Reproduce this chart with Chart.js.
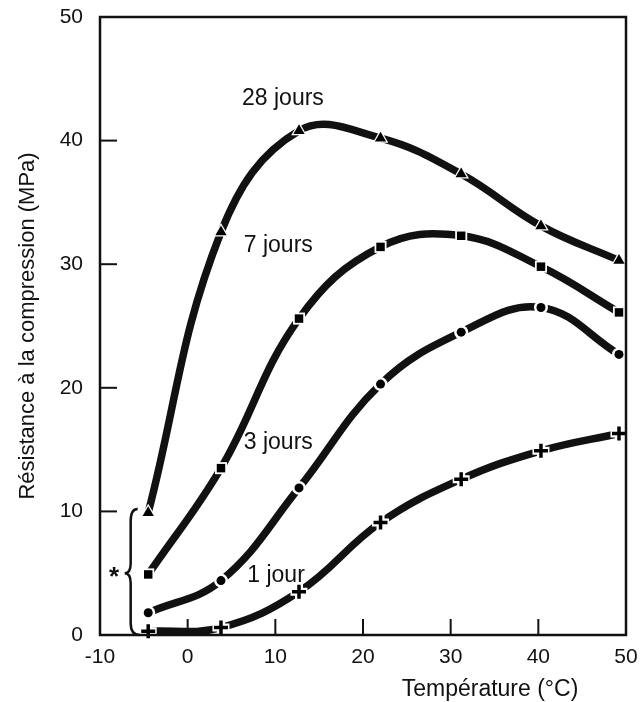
<!DOCTYPE html>
<html>
<head>
<meta charset="utf-8">
<script src="https://cdn.jsdelivr.net/npm/chart.js@4"></script>
<style>
html,body{margin:0;padding:0;background:#fff;}
#wrap{width:644px;height:702px;}
</style>
</head>
<body>
<div id="wrap"><canvas id="c" width="644" height="702"></canvas></div>
<script>
// ---- data ----
const temperatures = [-4.5, 3.8, 12.7, 22, 31.2, 40.3, 49.2];
const jours28 = [9.9, 32.6, 40.8, 40.2, 37.3, 33.1, 30.3];
const jours7  = [4.9, 13.5, 25.6, 31.4, 32.3, 29.8, 26.1];
const jours3  = [1.8, 4.4, 11.9, 20.3, 24.5, 26.5, 22.7];
const jour1   = [0.3, 0.6, 3.5, 9.1, 12.6, 14.9, 16.3];
const seriesNames = ['28 jours', '7 jours', '3 jours', '1 jour'];
const markerStyles = ['triangle', 'rect', 'circle', 'cross'];
const labelPositions = [[6.2, 43.4], [6.4, 31.5], [6.4, 15.6], [6.8, 4.8]];
const xTickValues = [-10, 0, 10, 20, 30, 40, 50];
const yTickValues = [0, 10, 20, 30, 40, 50];
const xTitle = 'Température (°C)';
const yTitle = 'Résistance à la compression (MPa)';

const INK = '#111';
const FONT = '"Liberation Sans", Arial, Helvetica, sans-serif';
const markerRadius = {triangle: 6.5, rect: 6, circle: 4.5, cross: 7};

function pts(ys) { return temperatures.map((t, i) => ({x: t, y: ys[i]})); }

function ds(label, ys, style) {
  return {
    label: label,
    data: pts(ys),
    borderColor: INK,
    borderWidth: 7.5,
    tension: 0.4,
    fill: false,
    pointStyle: style,
    pointRadius: 0,
    pointHoverRadius: 0,
    borderCapStyle: 'butt'
  };
}

// markers drawn at the library-computed point positions, with a white halo
const markers = {
  id: 'markers',
  afterDatasetsDraw(chart) {
    const ctx = chart.ctx;
    const drawPoint = Chart.helpers.drawPoint;
    chart.data.datasets.forEach((d, di) => {
      const meta = chart.getDatasetMeta(di);
      const style = d.pointStyle;
      const r = markerRadius[style];
      meta.data.forEach(el => {
        ctx.save();
        if (style === 'cross') {
          ctx.strokeStyle = '#fff'; ctx.lineWidth = 8;
          drawPoint(ctx, {pointStyle: style, radius: r + 1.5, borderWidth: 8, rotation: 0}, el.x, el.y);
          ctx.strokeStyle = '#000'; ctx.lineWidth = 3.5;
          drawPoint(ctx, {pointStyle: style, radius: r, borderWidth: 3.5, rotation: 0}, el.x, el.y);
        } else {
          ctx.fillStyle = '#fff';
          drawPoint(ctx, {pointStyle: style, radius: r + 2.5, borderWidth: 0, rotation: 0}, el.x, el.y);
          ctx.fillStyle = '#000';
          drawPoint(ctx, {pointStyle: style, radius: r, borderWidth: 0, rotation: 0}, el.x, el.y);
        }
        ctx.restore();
      });
    });
  }
};

const decor = {
  id: 'decor',
  afterDraw(chart) {
    const {ctx, chartArea: a, scales: {x, y}} = chart;
    ctx.save();
    ctx.strokeStyle = INK;
    ctx.fillStyle = INK;
    // frame
    ctx.lineWidth = 2.5;
    ctx.strokeRect(a.left, a.top, a.right - a.left, a.bottom - a.top);
    // inward ticks
    ctx.lineWidth = 2;
    xTickValues.forEach(v => {
      const px = x.getPixelForValue(v);
      ctx.beginPath(); ctx.moveTo(px, a.bottom); ctx.lineTo(px, a.bottom - 16); ctx.stroke();
    });
    yTickValues.forEach(v => {
      const py = y.getPixelForValue(v);
      ctx.beginPath(); ctx.moveTo(a.left, py); ctx.lineTo(a.left + 17, py); ctx.stroke();
    });
    // curve labels
    ctx.font = '23px ' + FONT;
    ctx.textAlign = 'left';
    ctx.textBaseline = 'middle';
    seriesNames.forEach((n, i) => {
      ctx.fillText(n, x.getPixelForValue(labelPositions[i][0]), y.getPixelForValue(labelPositions[i][1]));
    });
    // brace + asterisk
    const xc = x.getPixelForValue(-6.5);
    const yT = y.getPixelForValue(10.2), yM = y.getPixelForValue(5), yB = y.getPixelForValue(0);
    ctx.lineWidth = 2.5;
    ctx.beginPath();
    ctx.moveTo(xc + 7, yT);
    ctx.quadraticCurveTo(xc, yT, xc, yT + 12);
    ctx.lineTo(xc, yM - 10);
    ctx.quadraticCurveTo(xc, yM, xc - 6, yM);
    ctx.quadraticCurveTo(xc, yM, xc, yM + 10);
    ctx.lineTo(xc, yB - 12);
    ctx.quadraticCurveTo(xc, yB, xc + 9, yB);
    ctx.stroke();
    ctx.font = 'bold 26px ' + FONT;
    ctx.textAlign = 'center';
    ctx.fillText('*', x.getPixelForValue(-8.4), yM + 5);
    // x title
    ctx.font = '23px ' + FONT;
    ctx.textAlign = 'center';
    ctx.fillText(xTitle, 490, 690);
    ctx.restore();
  }
};

new Chart(document.getElementById('c'), {
  type: 'line',
  data: {
    datasets: [
      ds(seriesNames[0], jours28, markerStyles[0]),
      ds(seriesNames[1], jours7, markerStyles[1]),
      ds(seriesNames[2], jours3, markerStyles[2]),
      ds(seriesNames[3], jour1, markerStyles[3])
    ]
  },
  options: {
    responsive: false,
    animation: false,
    devicePixelRatio: 1,
    events: [],
    layout: {padding: {top: 17, right: 18, left: 0, bottom: 0}},
    plugins: {legend: {display: false}, tooltip: {enabled: false}},
    scales: {
      x: {
        type: 'linear', min: -10, max: 50,
        afterBuildTicks(s) { s.ticks = xTickValues.map(v => ({value: v})); },
        afterFit(s) { s.height = 67; s.paddingLeft = 0; s.paddingRight = 0; },
        grid: {display: false, drawTicks: false},
        border: {display: false},
        ticks: {color: INK, padding: 10, font: {family: FONT, size: 21}, maxRotation: 0}
      },
      y: {
        type: 'linear', min: 0, max: 50,
        afterBuildTicks(s) { s.ticks = yTickValues.map(v => ({value: v})); },
        afterFit(s) { s.width = 100; s.paddingTop = 0; s.paddingBottom = 0; },
        grid: {display: false, drawTicks: false},
        border: {display: false},
        ticks: {color: INK, padding: 17, font: {family: FONT, size: 21}},
        title: {display: true, text: yTitle, color: INK, font: {family: FONT, size: 22}, padding: {top: 15, bottom: 0}}
      }
    }
  },
  plugins: [markers, decor]
});
</script>
</body>
</html>
